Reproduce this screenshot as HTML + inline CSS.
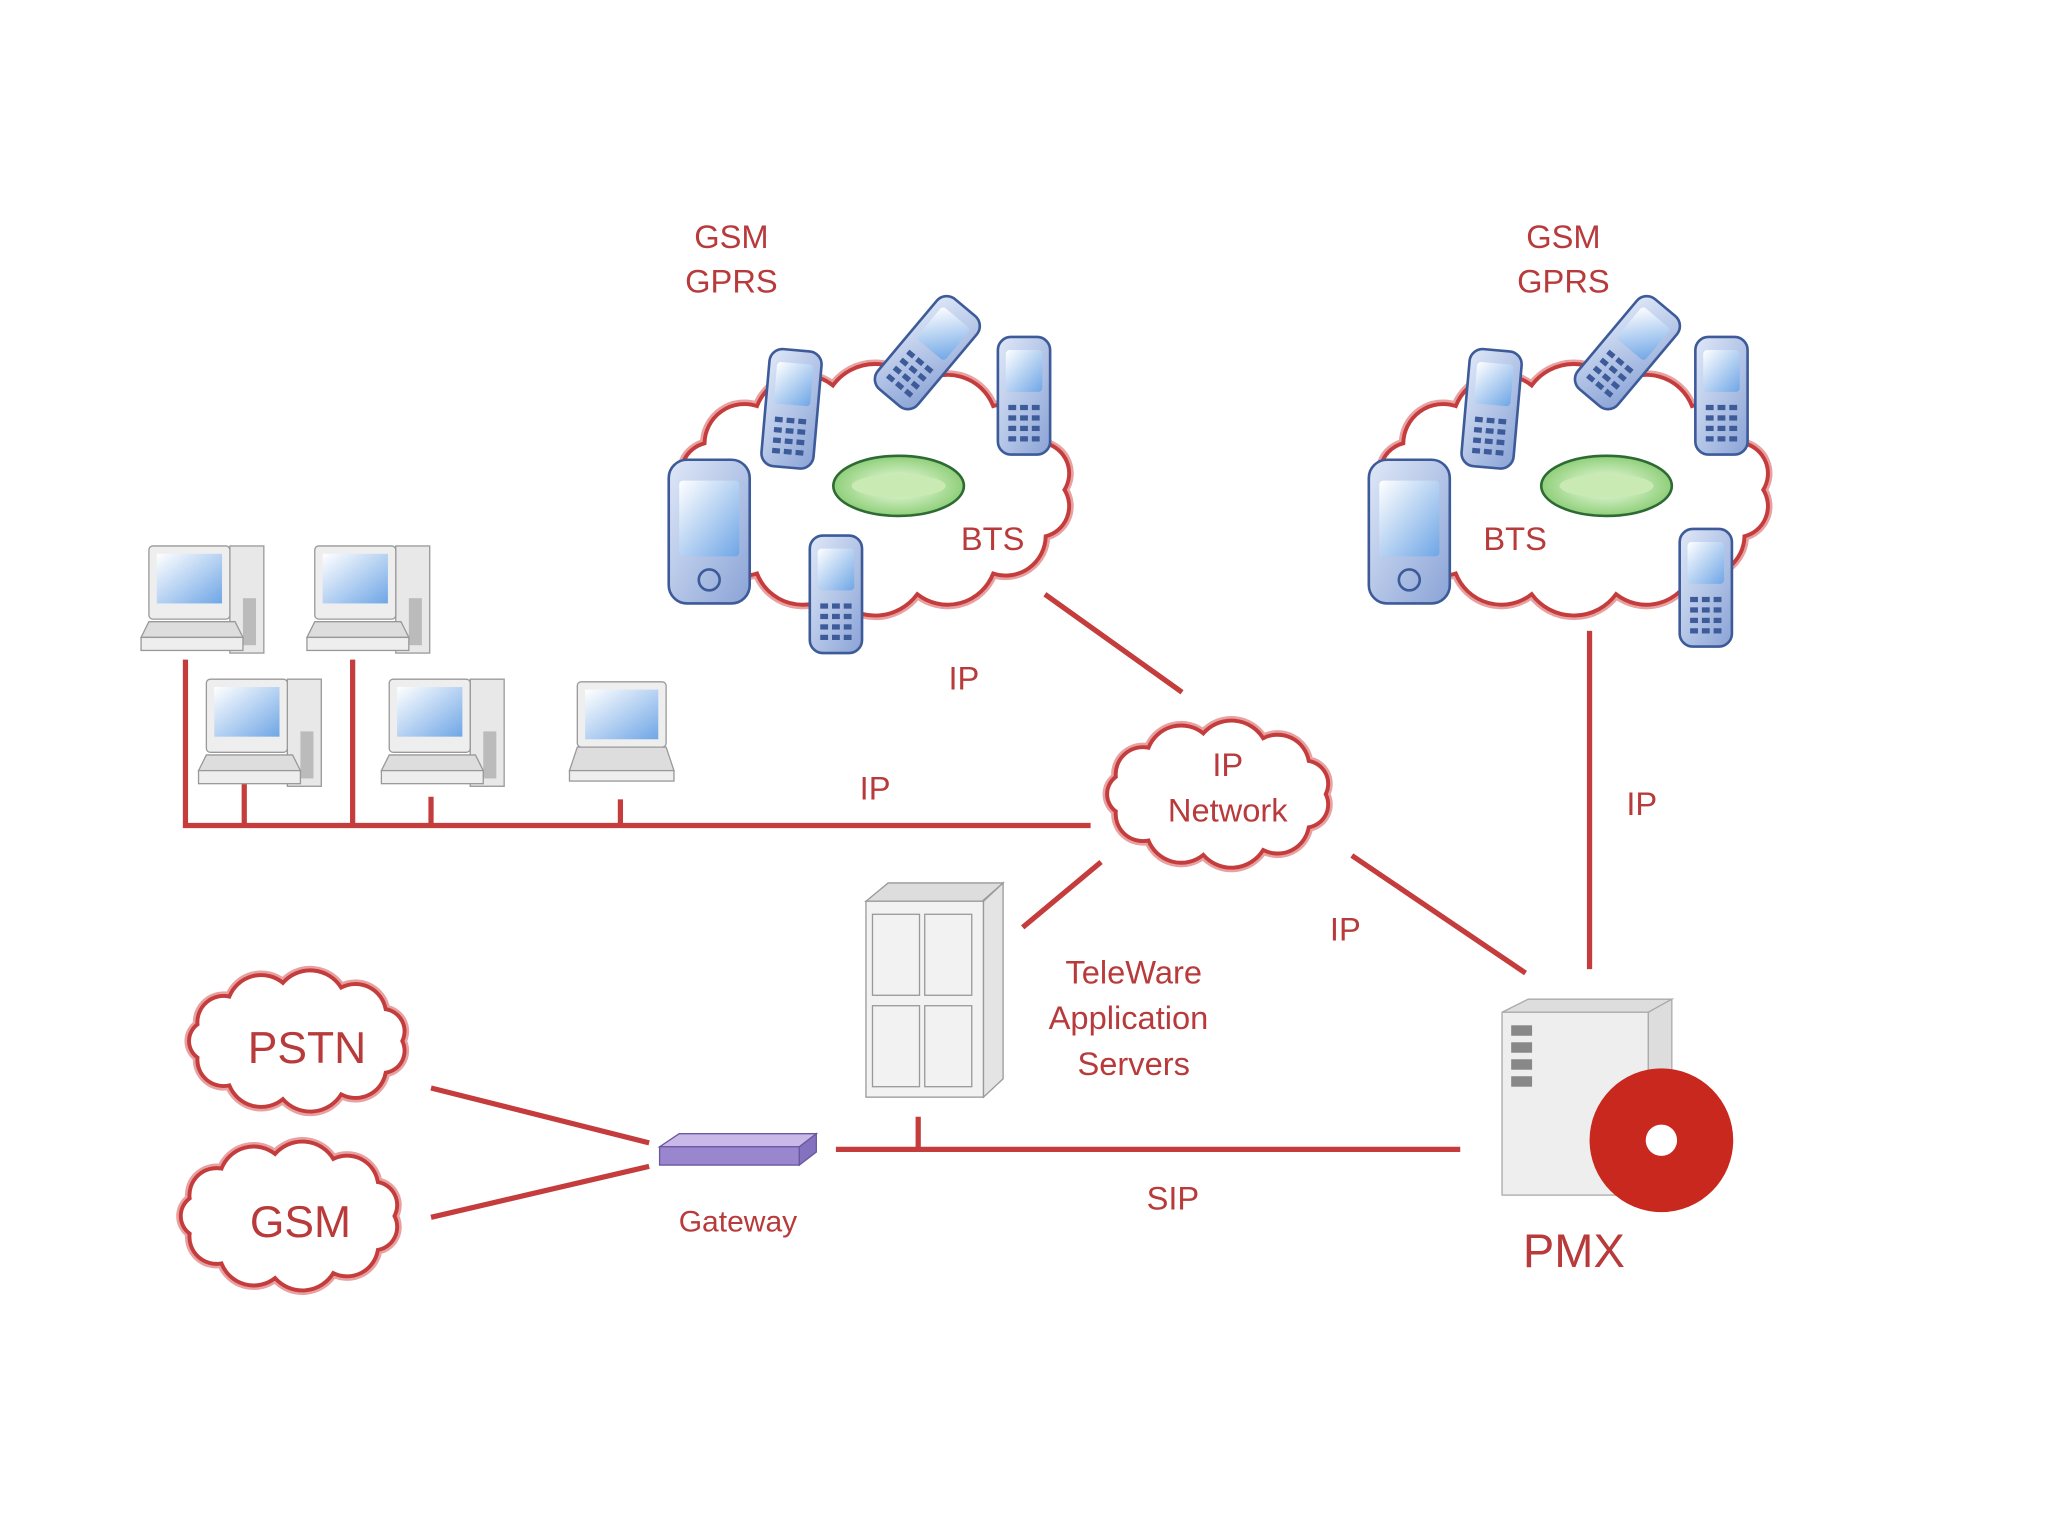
<!DOCTYPE html>
<html><head><meta charset="utf-8"><style>
html,body{margin:0;padding:0;background:#fff;width:2048px;height:1536px;overflow:hidden}
svg{display:block}
text{font-family:"Liberation Sans",sans-serif;fill:#b83a3a;text-anchor:middle}
</style></head><body>
<svg id="s" width="2048" height="1536" viewBox="0 0 1568 1176" xmlns="http://www.w3.org/2000/svg">
<defs>
<linearGradient id="ph" x1="0" y1="0" x2="1" y2="1"><stop offset="0" stop-color="#dfe8f8"/><stop offset="1" stop-color="#8aa3d6"/></linearGradient>
<linearGradient id="scr" x1="0" y1="0" x2="1" y2="1"><stop offset="0" stop-color="#ffffff"/><stop offset="1" stop-color="#6fa6e6"/></linearGradient>
<radialGradient id="gr"><stop offset="0" stop-color="#f4ffe8"/><stop offset="1" stop-color="#8fcf7a"/></radialGradient>
<g id="pc">
<rect x="68" y="0" width="26" height="82" fill="#e8e8e8" stroke="#999"/>
<rect x="78" y="40" width="10" height="36" fill="#bbb"/>
<rect x="6" y="0" width="62" height="56" rx="3" fill="#eee" stroke="#999"/>
<rect x="12" y="6" width="50" height="38" fill="url(#scr)"/>
<path d="M0 70 L6 58 L72 58 L78 70 Z" fill="#ddd" stroke="#999"/>
<rect x="0" y="70" width="78" height="10" fill="#eee" stroke="#999"/>
</g>
<g id="bts"><ellipse cx="0" cy="0" rx="50" ry="23" fill="url(#gr)" stroke="#2e6a34" stroke-width="2"/><ellipse cx="0" cy="0" rx="36" ry="9" fill="#c9eab3"/></g>
<g id="phone"><rect x="0" y="0" width="40" height="90" rx="10" fill="url(#ph)" stroke="#3d5a99" stroke-width="2"/><rect x="6" y="10" width="28" height="32" rx="3" fill="url(#scr)"/><g fill="#3d5a99"><rect x="8" y="52" width="6" height="4"/><rect x="17" y="52" width="6" height="4"/><rect x="26" y="52" width="6" height="4"/><rect x="8" y="60" width="6" height="4"/><rect x="17" y="60" width="6" height="4"/><rect x="26" y="60" width="6" height="4"/><rect x="8" y="68" width="6" height="4"/><rect x="17" y="68" width="6" height="4"/><rect x="26" y="68" width="6" height="4"/><rect x="8" y="76" width="6" height="4"/><rect x="17" y="76" width="6" height="4"/><rect x="26" y="76" width="6" height="4"/></g></g>
<g id="pda"><rect x="0" y="0" width="62" height="110" rx="14" fill="url(#ph)" stroke="#3d5a99" stroke-width="2"/><rect x="8" y="16" width="46" height="58" rx="3" fill="url(#scr)"/><circle cx="31" cy="92" r="8" fill="none" stroke="#3d5a99" stroke-width="2"/></g>
</defs>
<g id="clouds"></g>
<g stroke="#c43c3c" stroke-width="4" fill="none" stroke-linecap="butt">
<path d="M142 505V632H835"/><path d="M187 600V632M270 505V632M330 610V632M475 612V632"/>
<path d="M800 455L905 530"/><path d="M843 660L783 710"/><path d="M1035 655L1168 745"/>
<path d="M1217 483V742"/><path d="M640 880H1118M703 855V880"/>
<path d="M330 833L497 875M330 932L497 893"/>
</g>
<!-- phones -->
<use href="#bts" x="688" y="372"/><use href="#bts" x="1230" y="372"/>
<use href="#phone" x="586" y="268" transform="rotate(5 606 313)"/>
<use href="#phone" x="690" y="225" transform="rotate(40 710 270)"/>
<use href="#phone" x="764" y="258"/>
<use href="#pda" x="512" y="352"/>
<use href="#phone" x="620" y="410" transform="scale(1)"/>
<use href="#phone" x="1122" y="268" transform="rotate(5 1142 313)"/>
<use href="#phone" x="1226" y="225" transform="rotate(40 1246 270)"/>
<use href="#phone" x="1298" y="258"/>
<use href="#pda" x="1048" y="352"/>
<use href="#phone" x="1286" y="405"/>
<!-- computers -->
<use href="#pc" x="108" y="418"/><use href="#pc" x="235" y="418"/>
<use href="#pc" x="152" y="520"/><use href="#pc" x="292" y="520"/>
<g><rect x="442" y="522" width="68" height="50" rx="3" fill="#eee" stroke="#999"/><rect x="448" y="528" width="56" height="38" fill="url(#scr)"/><path d="M436 590L442 572H510L516 590Z" fill="#ddd" stroke="#999"/><rect x="436" y="590" width="80" height="8" fill="#eee" stroke="#999"/></g>
<!-- servers -->
<g stroke="#999" fill="#f2f2f2">
<path d="M663 690L680 676H768L752 690Z" fill="#ddd"/>
<rect x="663" y="690" width="90" height="150"/>
<path d="M753 690L768 676V826L753 840Z" fill="#e4e4e4"/>
<rect x="668" y="700" width="36" height="62"/><rect x="708" y="700" width="36" height="62"/>
<rect x="668" y="770" width="36" height="62"/><rect x="708" y="770" width="36" height="62"/>
</g>
<!-- PMX -->
<g stroke="#aaa"><path d="M1150 775L1170 765H1280L1262 775Z" fill="#ddd"/><rect x="1150" y="775" width="112" height="140" fill="#eee"/><path d="M1262 775L1280 765V905L1262 915Z" fill="#ddd"/>
<g fill="#888" stroke="none"><rect x="1157" y="785" width="16" height="8"/><rect x="1157" y="798" width="16" height="8"/><rect x="1157" y="811" width="16" height="8"/><rect x="1157" y="824" width="16" height="8"/></g></g>
<circle cx="1272" cy="873" r="55" fill="#c8281e"/><circle cx="1272" cy="873" r="12" fill="#fff"/>
<!-- gateway -->
<path d="M505 878L520 868H625L612 878Z" fill="#c9b8e8" stroke="#6a58a0"/>
<path d="M505 878H612V892H505Z" fill="#9a86cf" stroke="#6a58a0"/><path d="M612 878L625 868V882L612 892Z" fill="#8572bf" stroke="#6a58a0"/>
<!-- labels -->
<g font-size="25">
<text x="560" y="190">GSM</text><text x="560" y="224">GPRS</text>
<text x="1197" y="190">GSM</text><text x="1197" y="224">GPRS</text>
<text x="760" y="421">BTS</text><text x="1160" y="421">BTS</text>
<text x="738" y="528">IP</text><text x="670" y="612">IP</text>
<text x="940" y="594">IP</text><text x="940" y="629">Network</text>
<text x="1030" y="720">IP</text><text x="1257" y="624">IP</text>
<text x="868" y="753">TeleWare</text><text x="864" y="788">Application</text><text x="868" y="823">Servers</text>
<text x="898" y="926">SIP</text><text x="565" y="943" font-size="23">Gateway</text>
</g>
<text x="235" y="814" font-size="34">PSTN</text><text x="230" y="947" font-size="34">GSM</text>
<text x="1205" y="970" font-size="36">PMX</text>
</svg>
<script>
function cloud(cx,cy,rx,ry,n){var p=[],d="";for(var i=0;i<n;i++){var a=i/n*2*Math.PI;p.push([cx+rx*Math.cos(a),cy+ry*Math.sin(a)]);}
d="M"+p[0][0].toFixed(1)+" "+p[0][1].toFixed(1);for(var i=0;i<n;i++){var q=p[(i+1)%n],o=p[i];var c=Math.hypot(q[0]-o[0],q[1]-o[1]);var r=c*0.62;d+="A"+r.toFixed(1)+" "+r.toFixed(1)+" 0 0 1 "+q[0].toFixed(1)+" "+q[1].toFixed(1);}return d+"Z";}
var C=[[670,375,145,82,14],[1205,375,145,82,14],[933,608,82,47,11],[228,797,80,45,11],[222,931,80,48,11]],g=document.getElementById("clouds"),h="";
C.forEach(function(c){h+='<path d="'+cloud.apply(null,c)+'" fill="#fff" stroke="#e8a0a0" stroke-width="7"/><path d="'+cloud.apply(null,c)+'" fill="#fff" stroke="#c43c3c" stroke-width="3"/>';});
g.innerHTML=h;
</script>
</body></html>
